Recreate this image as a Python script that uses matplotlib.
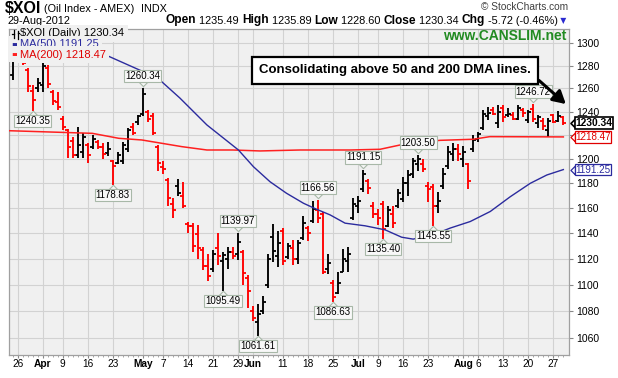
import numpy as np
import pandas as pd
import matplotlib
matplotlib.use('Agg')
import matplotlib.pyplot as plt
from matplotlib import transforms
from matplotlib.lines import Line2D

plt.rcParams['font.family'] = ['Liberation Sans', 'DejaVu Sans']

W, H = 618, 378

# trading days shown (Mar 23 - Aug 29 2012)
holidays = ['2012-04-06', '2012-05-28', '2012-07-04']
days = pd.bdate_range('2012-03-23', '2012-08-29')
days = days[~days.isin(pd.to_datetime(holidays))]

opens = [1272, 1290, 1301, 1276, 1258, 1260, 1263, 1278, 1257, 1248, 1234, 1224, 1215, 1203, 1206,
         1212, 1210, 1214, 1210, 1205, 1198, 1197, 1198, 1208, 1227, 1231, 1238, 1240, 1236, 1210,
         1193, 1183, 1163, 1178, 1170, 1147, 1146, 1139, 1127, 1114, 1112, 1128, 1118, 1120, 1125,
         1124, 1125, 1105, 1080, 1072, 1080, 1100, 1137, 1122, 1142, 1121, 1128, 1120, 1136, 1144,
         1150, 1158, 1155, 1112, 1101, 1094, 1110, 1118, 1152, 1162, 1175, 1182, 1162, 1155, 1163,
         1146, 1155, 1162, 1167, 1180, 1188, 1196, 1196, 1178, 1177, 1162, 1178, 1194, 1204, 1208,
         1200, 1196, 1208, 1217, 1226, 1236, 1241, 1230, 1243, 1237, 1237, 1234, 1241, 1233, 1242,
         1230, 1232, 1224, 1237, 1232, 1235.49]
highs = [1289.5, 1305, 1303, 1277.9, 1263, 1269, 1285, 1280.6, 1258.7, 1257, 1236, 1225.5, 1218.7, 1227, 1222,
         1213, 1220, 1216, 1213, 1214, 1199, 1205.5, 1214.5, 1226.3, 1230.4, 1237.2, 1260.34, 1241, 1239, 1212,
         1198, 1184.4, 1167.7, 1183.6, 1181.2, 1148.9, 1148.1, 1146.5, 1128.8, 1123.5, 1126.5, 1140.3, 1125, 1128.8, 1128.8,
         1139.97, 1126.5, 1107.7, 1084, 1085.5, 1091.4, 1123.5, 1147, 1141.9, 1144.2, 1132.6, 1134.9, 1134.9, 1153.5, 1145.7,
         1165.3, 1166.56, 1157, 1123.5, 1103.9, 1109.9, 1127.3, 1128.8, 1167.7, 1170, 1191.15, 1183.6, 1164.5, 1159, 1165.3,
         1161.3, 1161.3, 1175.6, 1185.2, 1191, 1200.6, 1203.5, 1199.8, 1181, 1179.6, 1173.2, 1192.5, 1210.5, 1213.7, 1212.1,
         1210.5, 1197, 1220.4, 1222.9, 1241.4, 1244, 1244, 1245.7, 1245.7, 1243, 1239.7, 1245.7, 1243, 1241.4, 1246.72,
         1237.2, 1234.7, 1234.7, 1238, 1240.5, 1235.89]
lows = [1267.4, 1289, 1280.6, 1256.5, 1240.35, 1256.5, 1256.5, 1260.8, 1245.7, 1241.4, 1224.6, 1201, 1201, 1201, 1201,
        1197, 1208, 1208, 1200, 1202.5, 1178.83, 1195.8, 1195.8, 1205.5, 1220.4, 1228.7, 1236, 1231, 1220.4, 1189.7,
        1187.7, 1161.3, 1152, 1169.5, 1160, 1140.3, 1125, 1119.7, 1111.4, 1102.5, 1109.9, 1115.2, 1095.49, 1112.2, 1119.7,
        1119, 1100, 1082.5, 1073, 1061.61, 1078.2, 1097.2, 1117.4, 1113.7, 1115, 1119.7, 1115, 1116, 1134.9, 1134.1,
        1148.1, 1148.1, 1108.4, 1108.4, 1086.63, 1092.8, 1109.9, 1109.9, 1150.4, 1155.9, 1173.2, 1171.6, 1152, 1146.5, 1135.4,
        1144.9, 1144.2, 1159.8, 1164.5, 1170, 1184.4, 1190.1, 1189.3, 1165, 1145.55, 1155.9, 1175.6, 1191.7, 1198.2, 1198.2,
        1193.3, 1175.6, 1205.5, 1214.6, 1224.6, 1232.9, 1237.2, 1226.3, 1231.2, 1235, 1232.9, 1232.9, 1235.5, 1230.4, 1231.2,
        1226.3, 1224.6, 1218, 1230, 1231.5, 1228.60]
closes = [1285, 1302, 1282, 1262, 1250, 1265, 1280, 1264, 1249, 1244, 1227, 1210, 1203, 1212, 1218,
          1203, 1217, 1210, 1204, 1208, 1194, 1203, 1212, 1224, 1222, 1236, 1255, 1234, 1222, 1197,
          1192, 1168, 1158, 1172, 1162, 1146, 1130, 1128, 1114, 1107, 1124, 1122, 1123, 1125, 1122,
          1133, 1109, 1095, 1075, 1078, 1087, 1120, 1126, 1132, 1118, 1130, 1120, 1132, 1148, 1140,
          1159, 1152, 1110, 1117, 1091, 1101, 1120, 1124, 1163, 1166, 1188, 1176, 1155, 1152, 1143,
          1158, 1148, 1172, 1180, 1187, 1198, 1200, 1192, 1175, 1162, 1166, 1188, 1206, 1208, 1204,
          1206, 1182, 1216, 1221, 1238, 1239, 1238, 1240, 1235, 1238, 1234, 1243, 1239, 1240, 1234,
          1235, 1228, 1232, 1231, 1236.06, 1230.34]

# moving averages read at bar positions
ma50_at = [17.1, 26.1, 29.4, 33.4, 38.8, 45.1, 48.1, 51.4, 54.7, 58.1, 60.7, 63.4, 66.4,
           70.4, 74.4, 77.7, 80, 84, 87.4, 91.4, 95.4, 99.4, 103.4, 106.7, 110]
ma50 = [1292.5, 1274.7, 1267.4, 1251.7, 1228.6, 1207.5, 1193.6, 1181.3, 1171.9, 1163.8, 1159.0, 1154.5, 1147.9,
        1145.8, 1142.6, 1136.8, 1135.3, 1138.7, 1144.0, 1149.2, 1157.2, 1169.1, 1180.0, 1186.8, 1191.25]
ma200_at = [-0.6, 15.9, 21.2, 25.8, 33.8, 38.8, 44, 49.4, 57.4, 67.4, 73.4, 77.4, 82.4, 85.4, 92, 95.3, 110]
ma200 = [1223.7, 1221.5, 1217.3, 1215.9, 1210.3, 1207.5, 1207.5, 1206.7, 1207.5, 1207.5, 1208.1, 1211.7,
         1214.5, 1215.6, 1216.5, 1218.7, 1218.47]

tick_days = ['2012-03-26', '2012-04-02', '2012-04-09', '2012-04-16', '2012-04-23', '2012-05-01',
             '2012-05-07', '2012-05-14', '2012-05-21', '2012-05-29', '2012-06-01', '2012-06-11',
             '2012-06-18', '2012-06-25', '2012-07-02', '2012-07-09', '2012-07-16', '2012-07-23',
             '2012-08-01', '2012-08-06', '2012-08-13', '2012-08-20', '2012-08-27']
tick_text = ['26', 'Apr', '9', '16', '23', 'May', '7', '14', '21', '29', 'Jun', '11', '18', '25',
             'Jul', '9', '16', '23', 'Aug', '6', '13', '20', '27']
months = ['Apr', 'May', 'Jun', 'Jul', 'Aug']

# price levels on the right axis; 1220 sits under the MA(200) tag
y_levels = list(range(1060, 1301, 20))
y_hidden = [1220]

label_highs = ['2012-05-01', '2012-05-29', '2012-06-20', '2012-07-03', '2012-07-19', '2012-08-21']
label_lows = ['2012-03-29', '2012-04-23', '2012-05-23', '2012-06-04', '2012-06-25', '2012-07-10', '2012-07-24']

n = len(days)
assert n == len(opens) == len(highs) == len(lows) == len(closes)
x = np.arange(n)
day_idx = {d.strftime('%Y-%m-%d'): i for i, d in enumerate(days)}

RED = '#FF0000'
NAVY = '#2B2B9E'
MARED = '#FF2020'
BG = '#F0F0F0'

def fx(px): return px / W
def fy(py): return 1 - py / H

fig = plt.figure(figsize=(W / 100, H / 100), dpi=100)
ax = fig.add_axes([fx(9.3), fy(354.5), 560 / W, 325.2 / H])
ax.set_facecolor(BG)
ax.set_axisbelow(True)

cols = ['black'] + ['black' if closes[i] >= closes[i - 1] else RED for i in range(1, n)]
ax.vlines(x, lows, highs, colors=cols, lw=1.35, zorder=2)
ax.hlines(opens, x - 0.6, x, colors=cols, lw=1.3, zorder=2)
ax.hlines(closes, x, x + 0.6, colors=cols, lw=1.3, zorder=2)

ax.plot(ma200_at, ma200, color=MARED, lw=1.1, zorder=3)
ax.plot(ma50_at, ma50, color=NAVY, lw=1.0, zorder=3)

ax.set_yscale('log')
ax.set_ylim(1048.2, 1312.65)
ax.set_xlim(-0.672, 111.19)
ax.set_yticks(y_levels, ['' if v in y_hidden else str(v) for v in y_levels])
ax.yaxis.set_minor_locator(matplotlib.ticker.NullLocator())
ax.yaxis.tick_right()
tick_idx = [day_idx[d] for d in tick_days]
ax.set_xticks(tick_idx, tick_text)
ax.set_xticks(x, minor=True)
for lab in ax.get_xticklabels():
    if lab.get_text() in months:
        lab.set_fontweight('bold')
        lab.set_fontsize(7.8)
ax.tick_params(axis='y', which='major', length=3, pad=2, labelsize=7.5, color='#888888')
ax.tick_params(axis='x', which='major', length=2, pad=1.5, labelsize=7.3, color='#888888')
ax.tick_params(axis='x', which='minor', length=1.2, color='#999999')
ax.grid(True, which='major', color='#D2D2D2', lw=0.8)
for s in ax.spines.values():
    s.set_color('#A0A0A0')
    s.set_linewidth(0.9)

# price labels on swing highs / lows
PFC, PEC = '#F8F8F8', '#A8B8A8'
up_tri = [(-1, 0), (0, 1), (1, 0), (-1, 0)]
dn_tri = [(-1, 0), (0, -1), (1, 0), (-1, 0)]
for d in label_highs:
    i = day_idx[d]
    v = highs[i]
    ax.annotate(f'{v:.2f}', xy=(i, v), xytext=(0, 5.2), textcoords='offset points', ha='center',
                va='bottom', fontsize=7, bbox=dict(boxstyle='square,pad=0.12', fc=PFC, ec=PEC, lw=0.8),
                zorder=7)
    tr = transforms.offset_copy(ax.transData, fig=fig, x=0, y=4.4, units='points')
    ax.plot([i], [v], transform=tr, marker=dn_tri, ms=6, mfc=PFC, mec=PEC, mew=0.8, zorder=6, clip_on=False)
for d in label_lows:
    i = day_idx[d]
    v = lows[i]
    ax.annotate(f'{v:.2f}', xy=(i, v), xytext=(0, -3.6), textcoords='offset points', ha='center',
                va='top', fontsize=7, bbox=dict(boxstyle='square,pad=0.12', fc=PFC, ec=PEC, lw=0.8),
                zorder=7)
    tr = transforms.offset_copy(ax.transData, fig=fig, x=0, y=-2.8, units='points')
    ax.plot([i], [v], transform=tr, marker=up_tri, ms=6, mfc=PFC, mec=PEC, mew=0.8, zorder=6, clip_on=False)

# value tags at right edge
blend = transforms.blended_transform_factory(ax.transAxes, ax.transData)
left_tri = [(0, -1), (-1, 0), (0, 1), (0, -1)]
for val, col, bold in [(closes[-1], 'black', True), (ma200[-1], '#E00000', False), (ma50[-1], NAVY, False)]:
    ax.annotate(f'{val:.2f}', xy=(1, val), xycoords=blend, xytext=(4.2, 0), textcoords='offset points',
                ha='left', va='center', fontsize=7.4 if bold else 7.1, fontweight='bold' if bold else 'normal',
                color=col, annotation_clip=False, zorder=9,
                bbox=dict(boxstyle='square,pad=0.06', fc='white', ec=col, lw=1.2 if bold else 0.9))
    tr = transforms.offset_copy(blend, fig=fig, x=3.8, y=0, units='points')
    ax.plot([1], [val], transform=tr, marker=left_tri, ms=6.5, mfc='white', mec=col,
            mew=1.2 if bold else 0.9, clip_on=False, zorder=8)

# callout box with arrow
ax.annotate('Consolidating above 50 and 200 DMA lines.', xy=(110.5, 1246.5), xycoords='data',
            xytext=(395, H - 70.5), textcoords='figure pixels', ha='center', va='center',
            fontsize=9.5, fontweight='bold', zorder=10, annotation_clip=False,
            bbox=dict(boxstyle='square,pad=0.55', fc='white', ec='black', lw=1.6),
            arrowprops=dict(arrowstyle='-|>,head_length=0.8,head_width=0.45', color='black', lw=2.2,
                            relpos=(1.0, 0.26), shrinkA=0, shrinkB=0))

# legend inside plot
lb = dict(fc=BG, ec='none', pad=2.2)
for xs, ys in [(13.5, (29.5, 37.5)), (17.5, (30.5, 38.5))]:
    fig.add_artist(Line2D([fx(xs), fx(xs)], [fy(ys[0]), fy(ys[1])], color='black', lw=0.9, zorder=12))
fig.add_artist(Line2D([fx(12), fx(13.5)], [fy(34), fy(34)], color='black', lw=0.9, zorder=12))
fig.add_artist(Line2D([fx(17.5), fx(19)], [fy(33), fy(33)], color='black', lw=0.9, zorder=12))
fig.text(fx(20.5), fy(33.5), f'$XOI (Daily) {closes[-1]:.2f}', fontsize=8, va='center', ha='left',
         bbox=lb, zorder=11)
fig.text(fx(11), fy(44), '▬', family='DejaVu Sans', fontsize=6, color=NAVY, va='center', ha='left',
         bbox=lb, zorder=11)
fig.text(fx(20.5), fy(44), f'MA(50) {ma50[-1]:.2f}', fontsize=8, color=NAVY, va='center', ha='left',
         bbox=lb, zorder=11)
fig.text(fx(11), fy(54.5), '▬', family='DejaVu Sans', fontsize=6, color=MARED, va='center', ha='left',
         bbox=lb, zorder=11)
fig.text(fx(20.5), fy(54.5), f'MA(200) {ma200[-1]:.2f}', fontsize=8, color='#E00000', va='center',
         ha='left', bbox=lb, zorder=11)

fig.text(fx(566), fy(35.5), 'www.CANSLIM.net', fontsize=10, fontweight='bold', color='#228B22',
         ha='right', va='center', zorder=11)

# header
t = fig.text(fx(5), fy(8.5), '$XOI', fontsize=11.5, fontweight='bold', va='center', ha='left')
t = ax.annotate(' (Oil Index - AMEX)', xy=(1, 0.45), xycoords=t, va='center', ha='left', fontsize=7.8)
ax.annotate('  INDX', xy=(1, 0.5), xycoords=t, va='center', ha='left', fontsize=7.8)
fig.text(fx(568), fy(7), '© StockCharts.com', fontsize=7.3, color='#404040', ha='right', va='center')
fig.text(fx(7), fy(20.5), days[-1].strftime('%d-%b-%Y'), fontsize=7.8, ha='left', va='center')

chg = closes[-1] - closes[-2]
pct = chg / closes[-2] * 100
parts = [('Open', True), (f' {opens[-1]:.2f} ', False), ('High', True), (f' {highs[-1]:.2f} ', False),
         ('Low', True), (f' {lows[-1]:.2f} ', False), ('Close', True), (f' {closes[-1]:.2f} ', False),
         ('Chg', True), (f' {chg:.2f} ({pct:.2f}%)', False)]
t = fig.text(fx(166), fy(20.5), parts[0][0], fontsize=8.6, fontweight='bold', va='center', ha='left')
for s, b in parts[1:]:
    t = ax.annotate(s, xy=(1, 0.5), xycoords=t, va='center', ha='left',
                    fontsize=8.6 if b else 7.95, fontweight='bold' if b else 'normal')
ax.annotate(' ▼', xy=(1, 0.5), xycoords=t, va='center', ha='left', family='DejaVu Sans',
            fontsize=5.5, color='#2A2AD0')

fig.savefig('out.png', dpi=100)
